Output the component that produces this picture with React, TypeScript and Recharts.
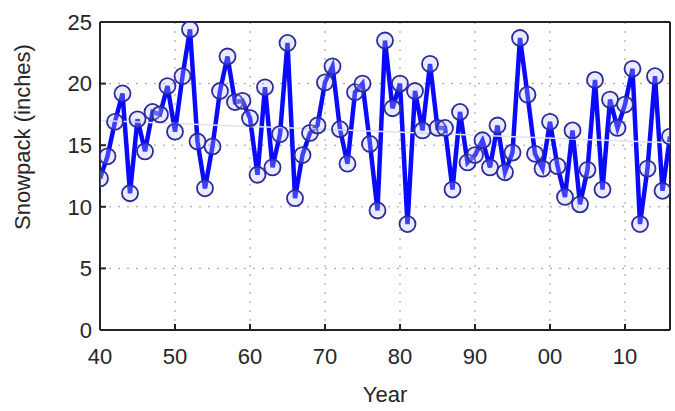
import React from "react";
import {
  LineChart, Line, XAxis, YAxis, CartesianGrid, ReferenceLine,
} from "recharts";

// 1940 .. 2016, one value per year
const YEARS = Array.from({ length: 77 }, (_, i) => 1940 + i);
const SNOWPACK = [
  12.3, 14.1, 16.9, 19.2, 11.1, 17.1, 14.5, 17.7, 17.5, 19.8,
  16.1, 20.6, 24.4, 15.3, 11.5, 14.9, 19.4, 22.2, 18.5, 18.6,
  17.2, 12.6, 19.7, 13.2, 15.9, 23.3, 10.7, 14.2, 16.0, 16.6,
  20.1, 21.4, 16.3, 13.5, 19.3, 20.0, 15.1, 9.7, 23.5, 18.0,
  20.0, 8.6, 19.4, 16.2, 21.6, 16.4, 16.4, 11.4, 17.7, 13.6,
  14.2, 15.4, 13.2, 16.6, 12.8, 14.4, 23.7, 19.1, 14.3, 13.1,
  16.9, 13.3, 10.8, 16.2, 10.2, 13.0, 20.3, 11.4, 18.7, 16.4,
  18.3, 21.2, 8.6, 13.1, 20.6, 11.3, 15.7,
];
const TREND_YEARS = [1940, 2016];
const TREND_VALUES = [17.0, 15.2];

const X_TICKS = [1940, 1950, 1960, 1970, 1980, 1990, 2000, 2010];
const Y_TICKS = [0, 5, 10, 15, 20, 25];

const data = YEARS.map((year, i) => ({ year, snow: SNOWPACK[i] }));
const trend = TREND_YEARS.map((year, i) => ({ year, trend: TREND_VALUES[i] }));

const FONT = "'Liberation Sans', Arial, sans-serif";
const tickStyle = { fontSize: 22, fill: "#262626", fontFamily: FONT };

const YLabel = () => (
  <text
    x={30}
    y={137}
    transform="rotate(-90 30 137)"
    textAnchor="middle"
    fontSize={22}
    fill="#262626"
    fontFamily={FONT}
  >
    Snowpack (inches)
  </text>
);

export default function App() {
  return (
    <div style={{ position: "absolute", left: 0, top: 0, width: 675, height: 411, background: "#fff" }}>
      <LineChart
        width={675}
        height={411}
        data={data}
        margin={{ top: 22, right: 5, bottom: 0, left: 0 }}
      >
        <CartesianGrid stroke="#9a9a9a" strokeDasharray="2 7" />
        <XAxis
          dataKey="year"
          type="number"
          domain={[1940, 2016]}
          ticks={X_TICKS}
          allowDataOverflow
          tickFormatter={(v: number) => String(v % 100).padStart(2, "0")}
          tick={tickStyle}
          stroke="#222"
          strokeWidth={2}
          tickSize={-6}
          tickMargin={24}
          height={81}
          label={{ value: "Year", position: "insideBottom", offset: 9, fontSize: 22, fill: "#262626", fontFamily: FONT }}
        />
        <YAxis
          domain={[0, 25]}
          ticks={Y_TICKS}
          allowDataOverflow
          tick={tickStyle}
          stroke="#222"
          strokeWidth={2}
          tickSize={-6}
          tickMargin={14}
          width={100}
          label={<YLabel />}
        />
        <ReferenceLine y={25} stroke="#222" strokeWidth={2} />
        <ReferenceLine x={2016} stroke="#222" strokeWidth={2} />
        <Line
          dataKey="snow"
          type="linear"
          stroke="#0a0aff"
          strokeWidth={4.5}
          dot={{ r: 8, fill: "rgba(190,190,255,0.3)", stroke: "#2b2b9c", strokeWidth: 1.8 }}
          isAnimationActive={false}
        />
        <Line
          data={trend}
          dataKey="trend"
          type="linear"
          stroke="#dde3f2"
          strokeWidth={1.5}
          dot={false}
          isAnimationActive={false}
        />
      </LineChart>
    </div>
  );
}
